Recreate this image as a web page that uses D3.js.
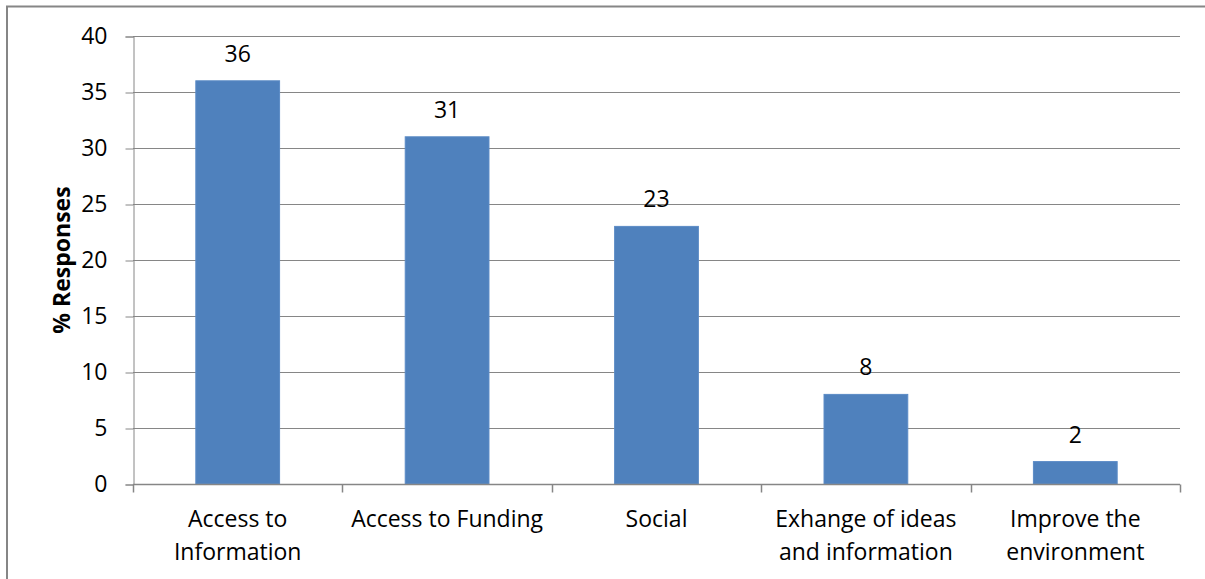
<!DOCTYPE html>
<html>
<head>
<meta charset="utf-8">
<script src="https://cdn.jsdelivr.net/npm/d3@7/dist/d3.min.js"></script>
<style>
  html, body { margin: 0; padding: 0; background: #fff; }
  svg { display: block; }
</style>
</head>
<body>
<svg id="chart" width="1205" height="579"></svg>
<script>
// Survey responses: reasons for joining, percent of respondents
const categories = [
  ["Access to", "Information"],
  ["Access to Funding"],
  ["Social"],
  ["Exhange of ideas", "and information"],
  ["Improve the", "environment"]
];
const responses = [36, 31, 23, 8, 2];
const yTicks = [0, 5, 10, 15, 20, 25, 30, 35, 40];

const W = 1205, H = 579;
const plot = { left: 133, right: 1180, top: 36, bottom: 484 };
const font = "'Open Sans', Lato, sans-serif";
const fontSize = 23;
const gridColor = "#868686";

const svg = d3.select("#chart");

// outer chart frame (runs off the right and bottom edges)
svg.append("rect")
  .attr("x", 7).attr("y", 6.5)
  .attr("width", W + 20).attr("height", H + 20)
  .attr("fill", "#fff")
  .attr("stroke", gridColor).attr("stroke-width", 2);

const x = d3.scaleBand()
  .domain(d3.range(categories.length))
  .range([plot.left, plot.right])
  .paddingInner(0.6)
  .paddingOuter(0.3);

const y = d3.scaleLinear()
  .domain([0, 40])
  .range([plot.bottom, plot.top]);

// horizontal gridlines
svg.append("g")
  .selectAll("line")
  .data(yTicks.filter(d => d > 0))
  .join("line")
  .attr("x1", plot.left).attr("x2", plot.right)
  .attr("y1", d => Math.round(y(d)) + 0.5)
  .attr("y2", d => Math.round(y(d)) + 0.5)
  .attr("stroke", gridColor).attr("stroke-width", 1);

// y axis
svg.append("g")
  .attr("transform", `translate(${plot.left + 0.5},0.5)`)
  .call(d3.axisLeft(y).tickValues(yTicks).tickSize(8).tickPadding(18))
  .call(g => g.select(".domain").attr("stroke", gridColor))
  .call(g => g.selectAll(".tick line").attr("stroke", gridColor))
  .call(g => g.selectAll(".tick text")
    .attr("font-family", font).attr("font-size", fontSize).attr("fill", "#000"));

// bars
svg.append("g")
  .selectAll("rect")
  .data(responses)
  .join("rect")
  .attr("x", (d, i) => x(i))
  .attr("width", x.bandwidth())
  .attr("y", d => y(d))
  .attr("height", d => y(0) - y(d))
  .attr("fill", "#4F81BD")
  .attr("stroke", "#5B8BC6").attr("stroke-width", 1);

// x axis with category boundary ticks
const base = Math.round(y(0)) + 0.5;
svg.append("line")
  .attr("x1", plot.left).attr("x2", plot.right)
  .attr("y1", base).attr("y2", base)
  .attr("stroke", gridColor).attr("stroke-width", 1.5);

const step = x.step();
svg.append("g")
  .selectAll("line")
  .data(d3.range(categories.length + 1))
  .join("line")
  .attr("x1", i => Math.round(plot.left + i * step) + 0.5)
  .attr("x2", i => Math.round(plot.left + i * step) + 0.5)
  .attr("y1", base).attr("y2", base + 8)
  .attr("stroke", gridColor).attr("stroke-width", 1.5);

// category labels, wrapped onto two lines where needed
const catLabels = svg.append("g")
  .selectAll("text")
  .data(categories)
  .join("text")
  .attr("text-anchor", "middle")
  .attr("font-family", font).attr("font-size", fontSize).attr("fill", "#000")
  .attr("transform", (d, i) => `translate(${x(i) + x.bandwidth() / 2},527)`);
catLabels.selectAll("tspan")
  .data(d => d)
  .join("tspan")
  .attr("x", 0)
  .attr("y", (d, j) => j * 33)
  .text(d => d);

// value labels above bars
svg.append("g")
  .selectAll("text")
  .data(responses)
  .join("text")
  .attr("x", (d, i) => x(i) + x.bandwidth() / 2)
  .attr("y", d => y(d) - 19)
  .attr("text-anchor", "middle")
  .attr("font-family", font).attr("font-size", fontSize).attr("fill", "#000")
  .text(d => d);

// y axis title
svg.append("text")
  .attr("transform", `translate(70,${(plot.top + plot.bottom) / 2}) rotate(-90)`)
  .attr("text-anchor", "middle")
  .attr("font-family", font).attr("font-size", fontSize).attr("font-weight", "bold")
  .attr("fill", "#000")
  .text("% Responses");
</script>
</body>
</html>
